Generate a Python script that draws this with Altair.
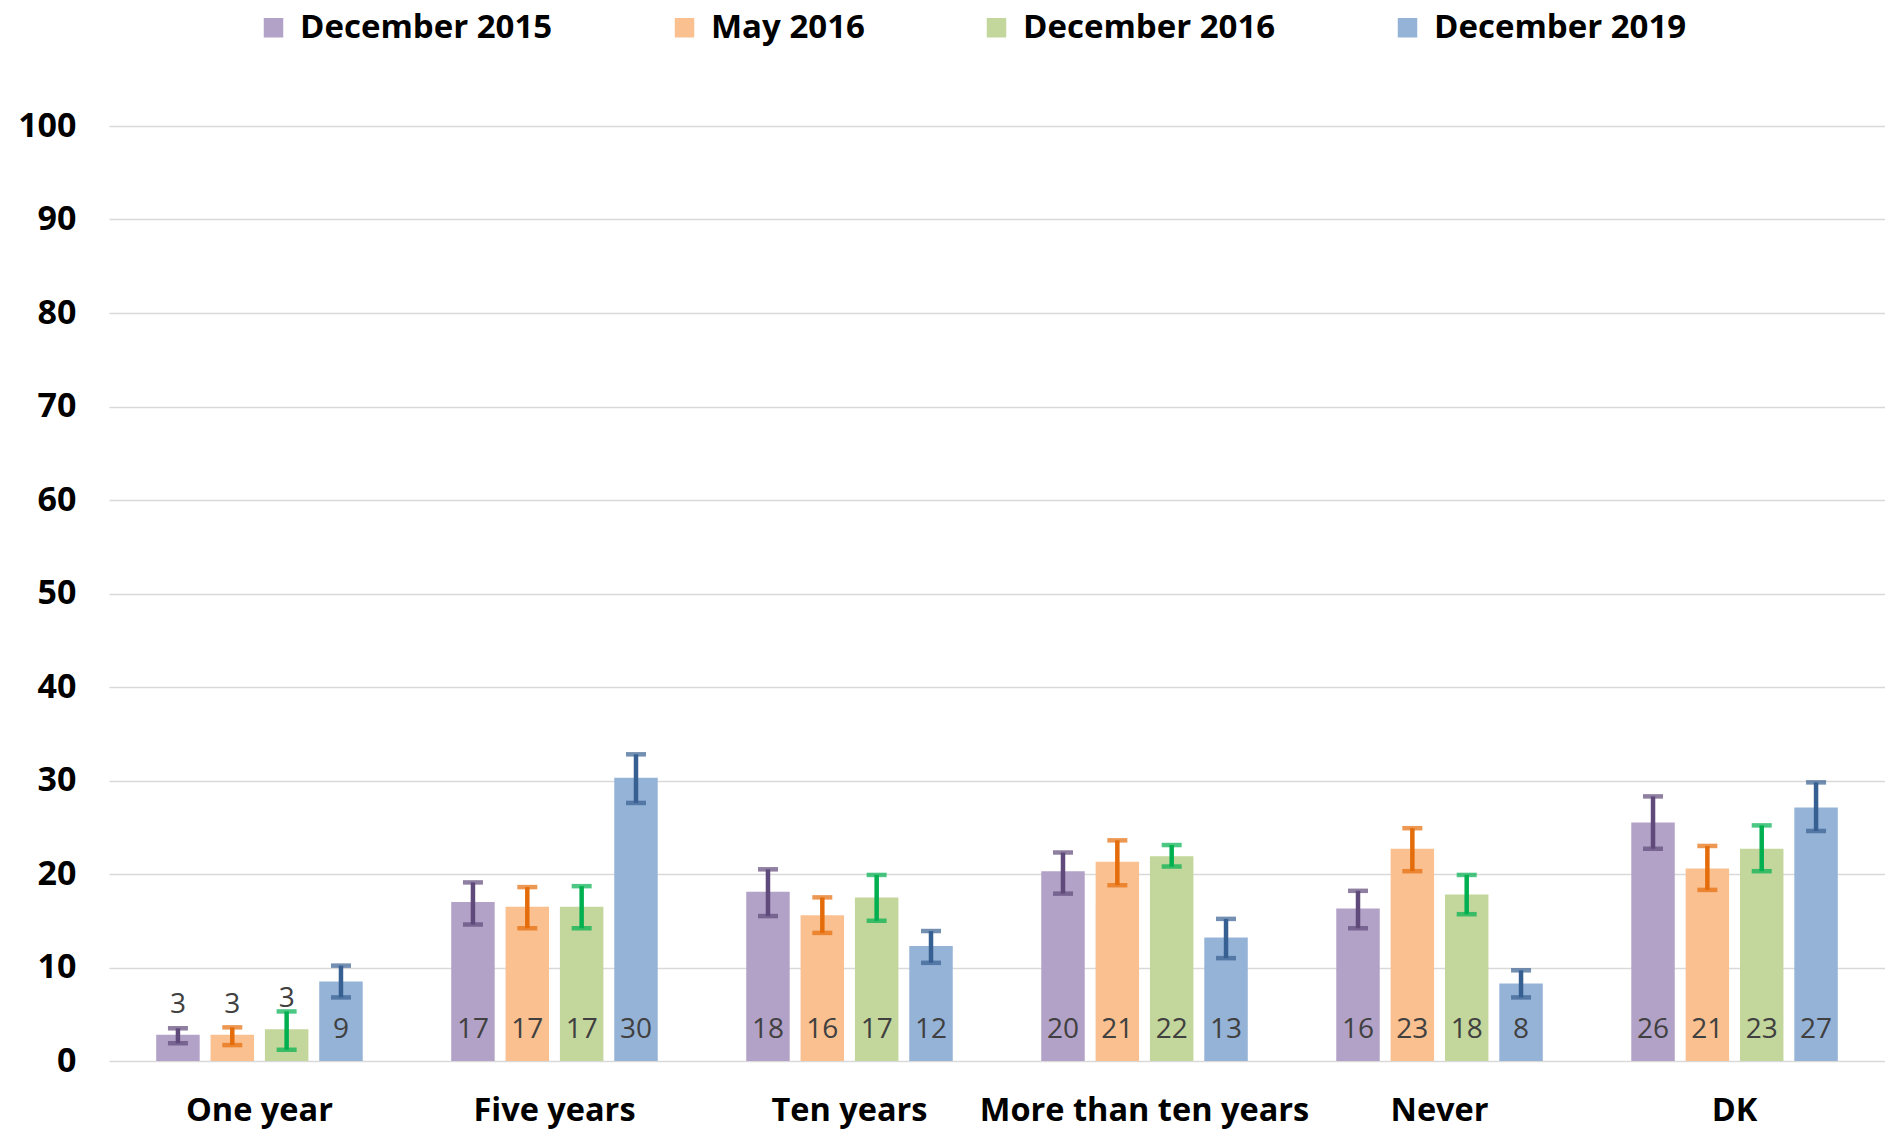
import altair as alt
import pandas as pd

categories = ["One year", "Five years", "Ten years", "More than ten years", "Never", "DK"]
series = ["December 2015", "May 2016", "December 2016", "December 2019"]

values = {
    "December 2015": [2.8, 17.0, 18.1, 20.3, 16.3, 25.5],
    "May 2016":      [2.8, 16.5, 15.6, 21.3, 22.7, 20.6],
    "December 2016": [3.4, 16.5, 17.5, 21.9, 17.8, 22.7],
    "December 2019": [8.5, 30.3, 12.3, 13.2, 8.3, 27.1],
}
labels = {
    "December 2015": [3, 17, 18, 20, 16, 26],
    "May 2016":      [3, 17, 16, 21, 23, 21],
    "December 2016": [3, 17, 17, 22, 18, 23],
    "December 2019": [9, 30, 12, 13, 8, 27],
}
err_low = {
    "December 2015": [1.9, 14.6, 15.5, 17.9, 14.2, 22.7],
    "May 2016":      [1.7, 14.2, 13.7, 18.8, 20.3, 18.3],
    "December 2016": [1.2, 14.2, 15.0, 20.8, 15.7, 20.3],
    "December 2019": [6.8, 27.6, 10.5, 11.0, 6.8, 24.6],
}
err_high = {
    "December 2015": [3.5, 19.1, 20.5, 22.3, 18.2, 28.3],
    "May 2016":      [3.6, 18.6, 17.5, 23.6, 24.9, 23.0],
    "December 2016": [5.3, 18.7, 19.9, 23.1, 19.9, 25.2],
    "December 2019": [10.2, 32.8, 13.9, 15.2, 9.7, 29.8],
}

bar_colors = ["#B3A2C7", "#FAC090", "#C3D69B", "#95B3D7"]
err_colors = ["#604A7B", "#E46C0A", "#00B050", "#376092"]

rows = []
for s in series:
    for i, c in enumerate(categories):
        rows.append({
            "category": c,
            "series": s,
            "value": values[s][i],
            "label": str(labels[s][i]),
            "lo": err_low[s][i],
            "hi": err_high[s][i],
        })
df = pd.DataFrame(rows)

FONT = "Open Sans"

x_enc = alt.X(
    "category:N",
    sort=categories,
    scale=alt.Scale(paddingInner=0.30, paddingOuter=0.16),
    axis=alt.Axis(
        title=None, domain=False, ticks=False, labelAngle=0,
        labelFont=FONT, labelFontSize=32.5, labelFontWeight="bold",
        labelColor="#000000", labelPadding=33, labelLimit=500,
        labelOverlap=False,
    ),
)
xoff_enc = alt.XOffset(
    "series:N", sort=series,
    scale=alt.Scale(domain=series, paddingInner=0.2, paddingOuter=0),
)
y_scale = alt.Scale(domain=[0, 100], nice=False)

base = alt.Chart(df)

bars = base.mark_bar().encode(
    x=x_enc,
    xOffset=xoff_enc,
    y=alt.Y(
        "value:Q", scale=y_scale,
        axis=alt.Axis(
            title=None, values=list(range(0, 101, 10)), domain=False, ticks=False,
            grid=True, gridColor="#D9D9D9", gridWidth=1.5,
            labelFont=FONT, labelFontSize=34, labelFontWeight="bold",
            labelColor="#000000", labelPadding=33,
        ),
    ),
    color=alt.Color(
        "series:N", sort=series,
        scale=alt.Scale(domain=series, range=bar_colors),
        legend=alt.Legend(
            title=None, orient="none", direction="horizontal",
            legendX=148, legendY=-115,
            symbolType="square", symbolSize=380, symbolStrokeWidth=0,
            labelFont=FONT, labelFontSize=33, labelFontWeight="bold",
            labelColor="#000000", labelOffset=10, columnPadding=115,
            labelLimit=400,
        ),
    ),
)

rules = base.mark_rule(strokeWidth=4.5).encode(
    x=x_enc,
    xOffset=xoff_enc,
    y=alt.Y("lo:Q", scale=y_scale),
    y2="hi:Q",
    color=alt.Color("series:N", sort=series,
                    scale=alt.Scale(domain=series, range=err_colors), legend=None),
)

caps_lo = base.mark_tick(thickness=4.5, size=20, orient="horizontal").encode(
    x=x_enc,
    xOffset=xoff_enc,
    y=alt.Y("lo:Q", scale=y_scale),
    color=alt.Color("series:N", sort=series,
                    scale=alt.Scale(domain=series, range=err_colors), legend=None),
)
caps_hi = base.mark_tick(thickness=4.5, size=20, orient="horizontal").encode(
    x=x_enc,
    xOffset=xoff_enc,
    y=alt.Y("hi:Q", scale=y_scale),
    color=alt.Color("series:N", sort=series,
                    scale=alt.Scale(domain=series, range=err_colors), legend=None),
)

text_inside = base.transform_filter("datum.value >= 5").mark_text(
    font=FONT, fontSize=28, color="#404040", baseline="middle", dy=-31,
).encode(
    x=x_enc,
    xOffset=xoff_enc,
    y=alt.Y("zero:Q", scale=y_scale),
    text="label:N",
).transform_calculate(zero="0")

text_above = base.transform_filter("datum.value < 5").mark_text(
    font=FONT, fontSize=28, color="#404040", baseline="middle", dy=-30,
).encode(
    x=x_enc,
    xOffset=xoff_enc,
    y=alt.Y("value:Q", scale=y_scale),
    text="label:N",
)

chart = alt.layer(bars, rules, caps_lo, caps_hi, text_inside, text_above).resolve_scale(
    color="independent"
).properties(
    width=1776,
    height=935,
    autosize=alt.AutoSizeParams(type="none"),
    padding={"left": 101, "top": 118, "right": 0, "bottom": 70},
).configure_view(stroke=None)

chart.save("out.html", embed_options={"renderer": "svg", "actions": False})
